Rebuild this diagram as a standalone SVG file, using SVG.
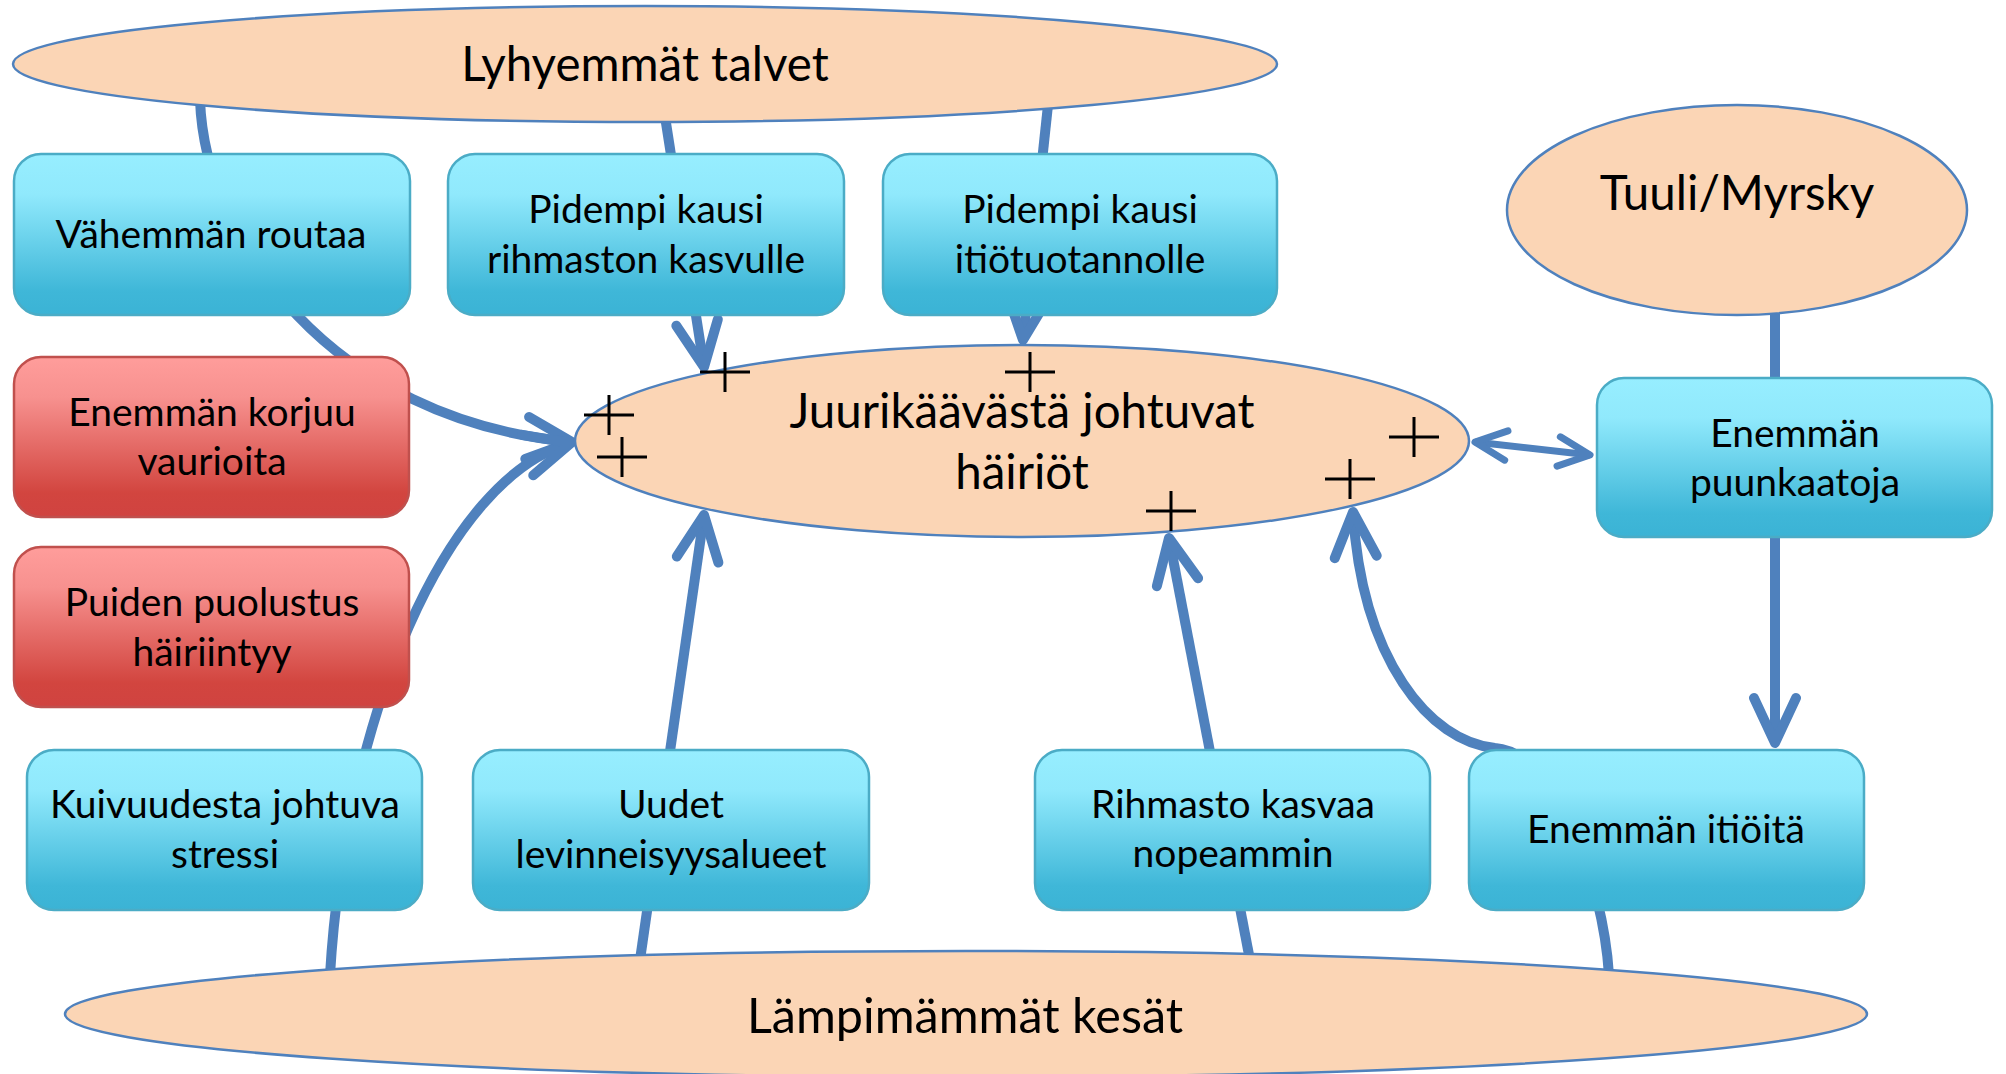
<svg xmlns="http://www.w3.org/2000/svg" xmlns:xlink="http://www.w3.org/1999/xlink" width="2006" height="1074" viewBox="0 0 2006 1074">
<style>
.ell{fill:#FBD5B5;stroke:#4F81BD;stroke-width:2.5}
.blue{fill:url(#gBlue);stroke:#4BACC6;stroke-width:2.5}
.red{fill:url(#gRed);stroke:#C0504D;stroke-width:2.5}
.t{font-family:Lato,"Open Sans",sans-serif;font-size:39px;fill:#000;text-anchor:middle}
.big{font-size:47.5px}
.c{fill:none;stroke:#4F81BD;stroke-width:10;marker-end:url(#arr)}
.thin{stroke-width:7;marker-start:url(#arr)}
.plus{fill:none;stroke:#000;stroke-width:3}
</style>
<defs>
<linearGradient id="gBlue" x1="0" y1="0" x2="0" y2="1">
<stop offset="0" stop-color="#97EEFF"/>
<stop offset="0.25" stop-color="#90E9FC"/>
<stop offset="0.85" stop-color="#3FB7D8"/>
<stop offset="1" stop-color="#3BB3D5"/>
</linearGradient>
<linearGradient id="gRed" x1="0" y1="0" x2="0" y2="1">
<stop offset="0" stop-color="#FF9D9B"/>
<stop offset="0.25" stop-color="#F7918F"/>
<stop offset="0.85" stop-color="#D2453F"/>
<stop offset="1" stop-color="#D04340"/>
</linearGradient>
<marker id="arr" viewBox="-6 -3.5 7 7" markerWidth="7" markerHeight="7" refX="0" refY="0" orient="auto-start-reverse" markerUnits="strokeWidth" overflow="visible">
<path d="M -4.5 -2.1 L 0 0 L -4.5 2.1" fill="none" stroke="#4F81BD" stroke-width="1" stroke-linecap="round" stroke-linejoin="round"/>
</marker>
<path id="plusShape" d="M -25 0 H 25 M 0 -20 V 20"/>
</defs>
<rect width="2006" height="1074" fill="#fff"/>

<g id="connectors">
<path class="c" d="M 200 100 C 205 240, 330 420, 572 442"/>
<path class="c" d="M 330 975 C 345 720, 445 478, 571 443"/>
<path class="c" d="M 664 110 L 704 367"/>
<path class="c" d="M 1048 105 L 1023 340"/>
<path class="c" d="M 1775 300 L 1775 743"/>
<path class="c thin" d="M 1475 442 L 1590 455"/>
<path class="c" d="M 640 960 L 704 515"/>
<path class="c" d="M 1250 960 L 1169 538"/>
<path class="c" d="M 1609 975 C 1603 880, 1555 752, 1495 748 C 1430 742, 1362 660, 1353 512"/>
</g>

<g id="n-lyhyemmat">
<ellipse class="ell" cx="645" cy="64" rx="632" ry="58"/>
<text class="t big" x="645" y="81">Lyhyemmät talvet</text>
</g>
<g id="n-vahemman-routaa">
<rect class="blue" x="14" y="154" width="396" height="161" rx="27"/>
<text class="t" x="211" y="248">Vähemmän routaa</text>
</g>
<g id="n-pidempi-rihmasto">
<rect class="blue" x="448" y="154" width="396" height="161" rx="27"/>
<text class="t" x="646" y="223">Pidempi kausi</text>
<text class="t" x="646" y="273">rihmaston kasvulle</text>
</g>
<g id="n-pidempi-itio">
<rect class="blue" x="883" y="154" width="394" height="161" rx="27"/>
<text class="t" x="1080" y="223">Pidempi kausi</text>
<text class="t" x="1080" y="273">itiötuotannolle</text>
</g>
<g id="n-tuuli">
<ellipse class="ell" cx="1737" cy="210" rx="230" ry="105"/>
<text class="t big" x="1737" y="210">Tuuli/Myrsky</text>
</g>
<g id="n-korjuu">
<rect class="red" x="14" y="357" width="395" height="160" rx="27"/>
<text class="t" x="212" y="426">Enemmän korjuu</text>
<text class="t" x="212" y="475">vaurioita</text>
</g>
<g id="n-puolustus">
<rect class="red" x="14" y="547" width="395" height="160" rx="27"/>
<text class="t" x="212" y="616">Puiden puolustus</text>
<text class="t" x="212" y="666">häiriintyy</text>
</g>
<g id="n-juurikaapa">
<ellipse class="ell" cx="1022" cy="441" rx="447" ry="96"/>
<text class="t big" x="1022" y="428">Juurikäävästä johtuvat</text>
<text class="t big" x="1022" y="489">häiriöt</text>
</g>
<g id="n-puunkaatoja">
<rect class="blue" x="1597" y="378" width="395" height="159" rx="27"/>
<text class="t" x="1795" y="447">Enemmän</text>
<text class="t" x="1795" y="496">puunkaatoja</text>
</g>
<g id="n-kuivuus">
<rect class="blue" x="27" y="750" width="395" height="160" rx="27"/>
<text class="t" x="225" y="818">Kuivuudesta johtuva</text>
<text class="t" x="225" y="868">stressi</text>
</g>
<g id="n-uudet">
<rect class="blue" x="473" y="750" width="396" height="160" rx="27"/>
<text class="t" x="671" y="818">Uudet</text>
<text class="t" x="671" y="868">levinneisyysalueet</text>
</g>
<g id="n-rihmasto">
<rect class="blue" x="1035" y="750" width="395" height="160" rx="27"/>
<text class="t" x="1233" y="818">Rihmasto kasvaa</text>
<text class="t" x="1233" y="867">nopeammin</text>
</g>
<g id="n-itioita">
<rect class="blue" x="1469" y="750" width="395" height="160" rx="27"/>
<text class="t" x="1666" y="843">Enemmän itiöitä</text>
</g>
<g id="n-lampimammat">
<ellipse class="ell" cx="966" cy="1014" rx="901" ry="63"/>
<text class="t big" x="965" y="1033" style="font-size:48.5px">Lämpimämmät kesät</text>
</g>

<g id="signs" class="plus">
<use xlink:href="#plusShape" x="725" y="372"/>
<use xlink:href="#plusShape" x="1030" y="372"/>
<use xlink:href="#plusShape" x="609" y="415"/>
<use xlink:href="#plusShape" x="622" y="457"/>
<use xlink:href="#plusShape" x="1414" y="437"/>
<use xlink:href="#plusShape" x="1350" y="479"/>
<use xlink:href="#plusShape" x="1171" y="511"/>
</g>
</svg>
